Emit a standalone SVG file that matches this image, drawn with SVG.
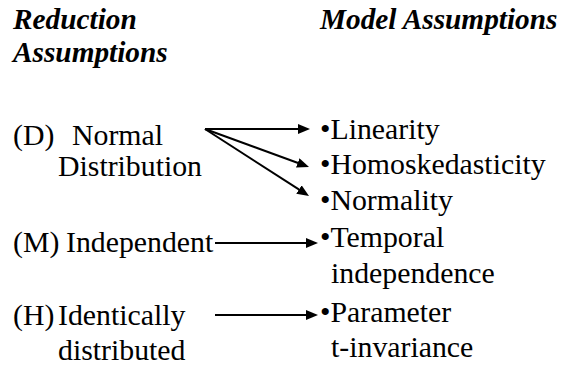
<svg xmlns="http://www.w3.org/2000/svg" width="567" height="368" viewBox="0 0 567 368">
<style>
.h{font-family:"Liberation Serif",Tinos,"Times New Roman",Times,"Nimbus Roman","DejaVu Serif",serif;font-size:29.3px;font-weight:bold;font-style:italic;fill:#000}
.t{font-family:"Liberation Serif",Tinos,"Times New Roman",Times,"Nimbus Roman","DejaVu Serif",serif;font-size:29.8px;fill:#000}
.c{stroke:#000;stroke-width:2;fill:none;marker-end:url(#ah)}
</style>
<defs>
<marker id="ah" markerUnits="userSpaceOnUse" markerWidth="12" markerHeight="10" refX="4" refY="5" orient="auto">
<path d="M0,0 L12,5 L0,10 z" fill="#000"/>
</marker>
</defs>
<rect width="567" height="368" fill="#fff"/>
<g id="header-reduction"><text class="h" x="13" y="29">Reduction</text><text class="h" x="13" y="62">Assumptions</text></g>
<g id="header-model"><text class="h" x="320" y="29">Model Assumptions</text></g>
<g id="node-D"><text class="t" x="13" y="145">(D)</text><text class="t" x="72" y="145">Normal</text><text class="t" x="58" y="176">Distribution</text></g>
<g id="node-M"><text class="t" x="13" y="252">(M)</text><text class="t" x="66" y="252">Independent</text></g>
<g id="node-H"><text class="t" x="13" y="325">(H)</text><text class="t" x="58" y="325">Identically</text><text class="t" x="58" y="360">distributed</text></g>
<g id="node-linearity"><text class="t" x="320" y="139">•Linearity</text></g>
<g id="node-homoskedasticity"><text class="t" x="320" y="174">•Homoskedasticity</text></g>
<g id="node-normality"><text class="t" x="320" y="210">•Normality</text></g>
<g id="node-temporal"><text class="t" x="320" y="247">•Temporal</text><text class="t" x="331" y="283">independence</text></g>
<g id="node-parameter"><text class="t" x="320" y="322">•Parameter</text><text class="t" x="331" y="357">t-invariance</text></g>
<g id="connectors">
<line class="c" x1="205" y1="129" x2="302" y2="129"/>
<line class="c" x1="205" y1="129" x2="301.5" y2="164.3"/>
<line class="c" x1="205" y1="129" x2="302.3" y2="191.7"/>
<line class="c" x1="215" y1="243" x2="310" y2="243"/>
<line class="c" x1="215" y1="315" x2="310" y2="315"/>
</g>
</svg>
